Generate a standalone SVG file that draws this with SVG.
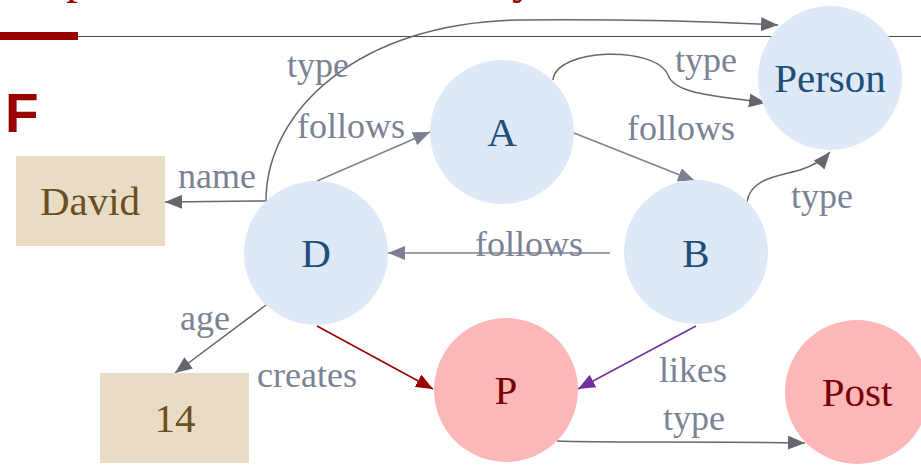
<svg xmlns="http://www.w3.org/2000/svg" width="921" height="465" viewBox="0 0 921 465">
  <style>
    .bg { fill: #ffffff; }
    .cls { fill: #dde9f6; }
    .inst { fill: #fcb8b8; }
    .lit { fill: #e9dcc5; }
    .cls-t { font-family: "Liberation Serif", "Times New Roman", serif; font-size: 41px; fill: #1f4e79; text-anchor: middle; }
    .inst-t { font-family: "Liberation Serif", "Times New Roman", serif; font-size: 41px; fill: #7a0000; text-anchor: middle; }
    .lit-t { font-family: "Liberation Serif", "Times New Roman", serif; font-size: 41px; fill: #6b4e22; text-anchor: middle; }
    .lbl { font-family: "Liberation Serif", "Times New Roman", serif; font-size: 36px; fill: #7b8294; }
    .e-dark { fill: none; stroke: #65666e; stroke-width: 1.5; }
    .e-soft { fill: none; stroke: #7c8191; stroke-width: 1.5; }
    .e-red { fill: none; stroke: #990000; stroke-width: 1.5; }
    .e-purple { fill: none; stroke: #7030a0; stroke-width: 1.5; }
    .title { font-family: "Liberation Serif", "Times New Roman", serif; font-size: 48px; fill: #990000; }
  </style>
  <defs>
    <marker id="arr-dark" viewBox="0 0 17 14" refX="17" refY="7" markerWidth="17" markerHeight="14" markerUnits="userSpaceOnUse" orient="auto">
      <path d="M0,0 L17,7 L0,14 Z" fill="#65666e"/>
    </marker>
    <marker id="arr-soft" viewBox="0 0 17 14" refX="17" refY="7" markerWidth="17" markerHeight="14" markerUnits="userSpaceOnUse" orient="auto">
      <path d="M0,0 L17,7 L0,14 Z" fill="#7c8191"/>
    </marker>
    <marker id="arr-red" viewBox="0 0 17 14" refX="17" refY="7" markerWidth="17" markerHeight="14" markerUnits="userSpaceOnUse" orient="auto">
      <path d="M0,0 L17,7 L0,14 Z" fill="#990000"/>
    </marker>
    <marker id="arr-purple" viewBox="0 0 17 14" refX="17" refY="7" markerWidth="17" markerHeight="14" markerUnits="userSpaceOnUse" orient="auto">
      <path d="M0,0 L17,7 L0,14 Z" fill="#7030a0"/>
    </marker>
  </defs>

  <rect class="bg" x="0" y="0" width="921" height="465"/>

  <!-- slide header: heading glyph tails and rule -->
  <g id="header">
    <text class="title" x="66" y="-7">p</text>
    <text class="title" x="512" y="-7">y</text>
    <rect x="0" y="32" width="78" height="8" fill="#990000"/>
    <line x1="78" y1="36.5" x2="921" y2="36.5" stroke="#4a4a4a" stroke-width="1.2"/>
    <text x="5" y="132" font-family="'Liberation Sans', Arial, sans-serif" font-weight="bold" font-size="55" fill="#990000">F</text>
  </g>

  <!-- edges -->
  <g id="edges">
    <path class="e-dark" d="M266,201 C266,110 360,22 520,20 C640,19 720,22 778,25" marker-end="url(#arr-dark)"/>
    <path class="e-dark" d="M266,201 L165,202" marker-end="url(#arr-dark)"/>
    <path class="e-soft" d="M317,181 L430,132" marker-end="url(#arr-soft)"/>
    <path class="e-soft" d="M574,133 L695,181" marker-end="url(#arr-soft)"/>
    <path class="e-dark" d="M553,80 C556,48 655,45 668,75 C675,95 720,96 766,103" marker-end="url(#arr-dark)"/>
    <path class="e-dark" d="M747,202 C750,178 780,176 800,170 C815,165 825,158 830,152" marker-end="url(#arr-dark)"/>
    <path class="e-soft" d="M610,253 L388,253" marker-end="url(#arr-soft)"/>
    <path class="e-dark" d="M266,305 L175,373" marker-end="url(#arr-dark)"/>
    <path class="e-red" d="M317,326 L433,389" marker-end="url(#arr-red)"/>
    <path class="e-purple" d="M696,326 L578,389" marker-end="url(#arr-purple)"/>
    <path class="e-dark" d="M557,441 C600,443 700,441 805,443" marker-end="url(#arr-dark)"/>

    <text class="lbl" x="287" y="77">type</text>
    <text class="lbl" x="297" y="138">follows</text>
    <text class="lbl" x="675" y="72">type</text>
    <text class="lbl" x="627" y="140">follows</text>
    <text class="lbl" x="791" y="208">type</text>
    <text class="lbl" x="178" y="188">name</text>
    <text class="lbl" x="475" y="256">follows</text>
    <text class="lbl" x="180" y="330">age</text>
    <text class="lbl" x="257" y="387">creates</text>
    <text class="lbl" x="659" y="382">likes</text>
    <text class="lbl" x="663" y="430">type</text>
  </g>

  <!-- nodes -->
  <g id="node-person">
    <circle class="cls" cx="830" cy="78" r="72"/>
    <text class="cls-t" x="830" y="92">Person</text>
  </g>
  <g id="node-a">
    <circle class="cls" cx="502" cy="132" r="72"/>
    <text class="cls-t" x="502" y="146">A</text>
  </g>
  <g id="node-d">
    <circle class="cls" cx="316" cy="253" r="72"/>
    <text class="cls-t" x="316" y="267">D</text>
  </g>
  <g id="node-b">
    <circle class="cls" cx="696" cy="252" r="72"/>
    <text class="cls-t" x="696" y="267">B</text>
  </g>
  <g id="node-p">
    <circle class="inst" cx="506" cy="390" r="72"/>
    <text class="inst-t" x="506" y="404">P</text>
  </g>
  <g id="node-post">
    <circle class="inst" cx="857" cy="392" r="72"/>
    <text class="inst-t" x="857" y="406">Post</text>
  </g>
  <g id="node-david">
    <rect class="lit" x="16" y="156" width="149" height="90"/>
    <text class="lit-t" x="90" y="215">David</text>
  </g>
  <g id="node-14">
    <rect class="lit" x="100" y="373" width="149" height="90"/>
    <text class="lit-t" x="175" y="432">14</text>
  </g>
</svg>
